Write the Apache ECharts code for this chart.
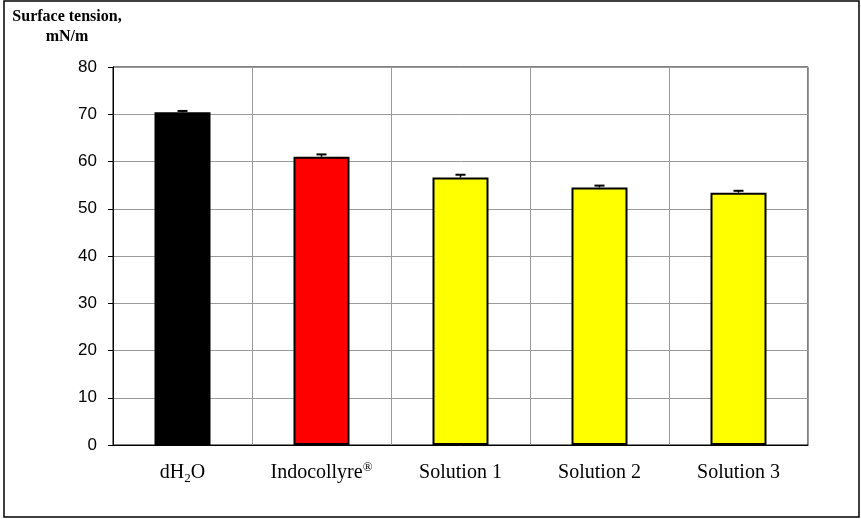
<!DOCTYPE html>
<html>
<head>
<meta charset="utf-8">
<script src="https://cdn.jsdelivr.net/npm/echarts@6/dist/echarts.min.js"></script>
<style>html,body{margin:0;padding:0;background:#fff}#c{width:861px;height:519px}</style>
</head>
<body>
<div id="c"></div>
<script>
var categories = ['dH2O', 'Indocollyre®', 'Solution 1', 'Solution 2', 'Solution 3'];
var values = [70.4, 61.0, 56.6, 54.5, 53.4];
var errors = [0.3, 0.5, 0.6, 0.4, 0.4];
var barColors = ['#000000', '#ff0000', '#ffff00', '#ffff00', '#ffff00'];
var yTicks = [0, 10, 20, 30, 40, 50, 60, 70, 80];

var chart = echarts.init(document.getElementById('c'), null, {renderer: 'canvas'});

var barData = values.map(function (v, i) {
  return {value: v, itemStyle: {color: barColors[i]}};
});
var errData = values.map(function (v, i) { return [i, v, v + errors[i]]; });

var labelFmt = function (v) {
  if (v === 'dH2O') return '{n|dH}{sub|2}{n|O}';
  if (v === 'Indocollyre®') return '{n|Indocollyre}{sup|®}';
  return '{n|' + v + '}';
};

chart.setOption({
  animation: false,
  backgroundColor: '#fff',
  graphic: [
    {type: 'rect', shape: {x: 4, y: 1, width: 855, height: 516},
     style: {fill: 'none', stroke: '#000', lineWidth: 1.5}, z: 100},
    {type: 'text', x: 67, y: 7,
     style: {text: 'Surface tension,\nmN/m', textAlign: 'center', fontFamily: 'Liberation Serif',
             fontWeight: 'bold', fontSize: 16, lineHeight: 20, fill: '#000'}}
  ],
  grid: {left: 113, right: 53, top: 67, bottom: 74, show: true, borderColor: '#000', borderWidth: 1, backgroundColor: 'transparent'},
  xAxis: {
    type: 'category',
    data: categories,
    boundaryGap: true,
    axisLine: {show: true, lineStyle: {color: '#000', width: 1}},
    axisTick: {show: false},
    splitLine: {show: true, interval: 0, lineStyle: {color: '#9a9a9a', width: 1}},
    axisLabel: {
      interval: 0,
      margin: 16,
      formatter: labelFmt,
      rich: {
        n: {fontFamily: 'Liberation Serif', fontSize: 20, color: '#000', lineHeight: 24},
        sub: {fontFamily: 'Liberation Serif', fontSize: 13, color: '#000', lineHeight: 10, verticalAlign: 'bottom'},
        sup: {fontFamily: 'Liberation Serif', fontSize: 13, color: '#000', lineHeight: 12, verticalAlign: 'top'}
      }
    }
  },
  yAxis: {
    type: 'value',
    min: yTicks[0],
    max: yTicks[yTicks.length - 1],
    interval: 10,
    axisLine: {show: true, lineStyle: {color: '#000', width: 1}},
    axisTick: {show: true, inside: false, length: 5, lineStyle: {color: '#000'}},
    splitLine: {show: true, lineStyle: {color: '#9a9a9a', width: 1}},
    axisLabel: {margin: 16, fontFamily: 'Liberation Sans', fontSize: 17, color: '#000'}
  },
  series: [
    {
      type: 'bar',
      data: barData,
      barWidth: 56,
      itemStyle: {borderColor: '#000', borderWidth: 2},
      z: 2
    },
    {
      type: 'custom',
      data: errData,
      z: 3,
      renderItem: function (params, api) {
        var base = api.coord([api.value(0), api.value(1)]);
        var top = api.coord([api.value(0), api.value(2)]);
        var hw = 5;
        return {
          type: 'group',
          children: [
            {type: 'line', shape: {x1: base[0], y1: base[1], x2: top[0], y2: top[1]},
             style: {stroke: '#000', lineWidth: 1.5}},
            {type: 'line', shape: {x1: top[0] - hw, y1: top[1], x2: top[0] + hw, y2: top[1]},
             style: {stroke: '#000', lineWidth: 2}}
          ]
        };
      }
    }
  ]
});
</script>
</body>
</html>
